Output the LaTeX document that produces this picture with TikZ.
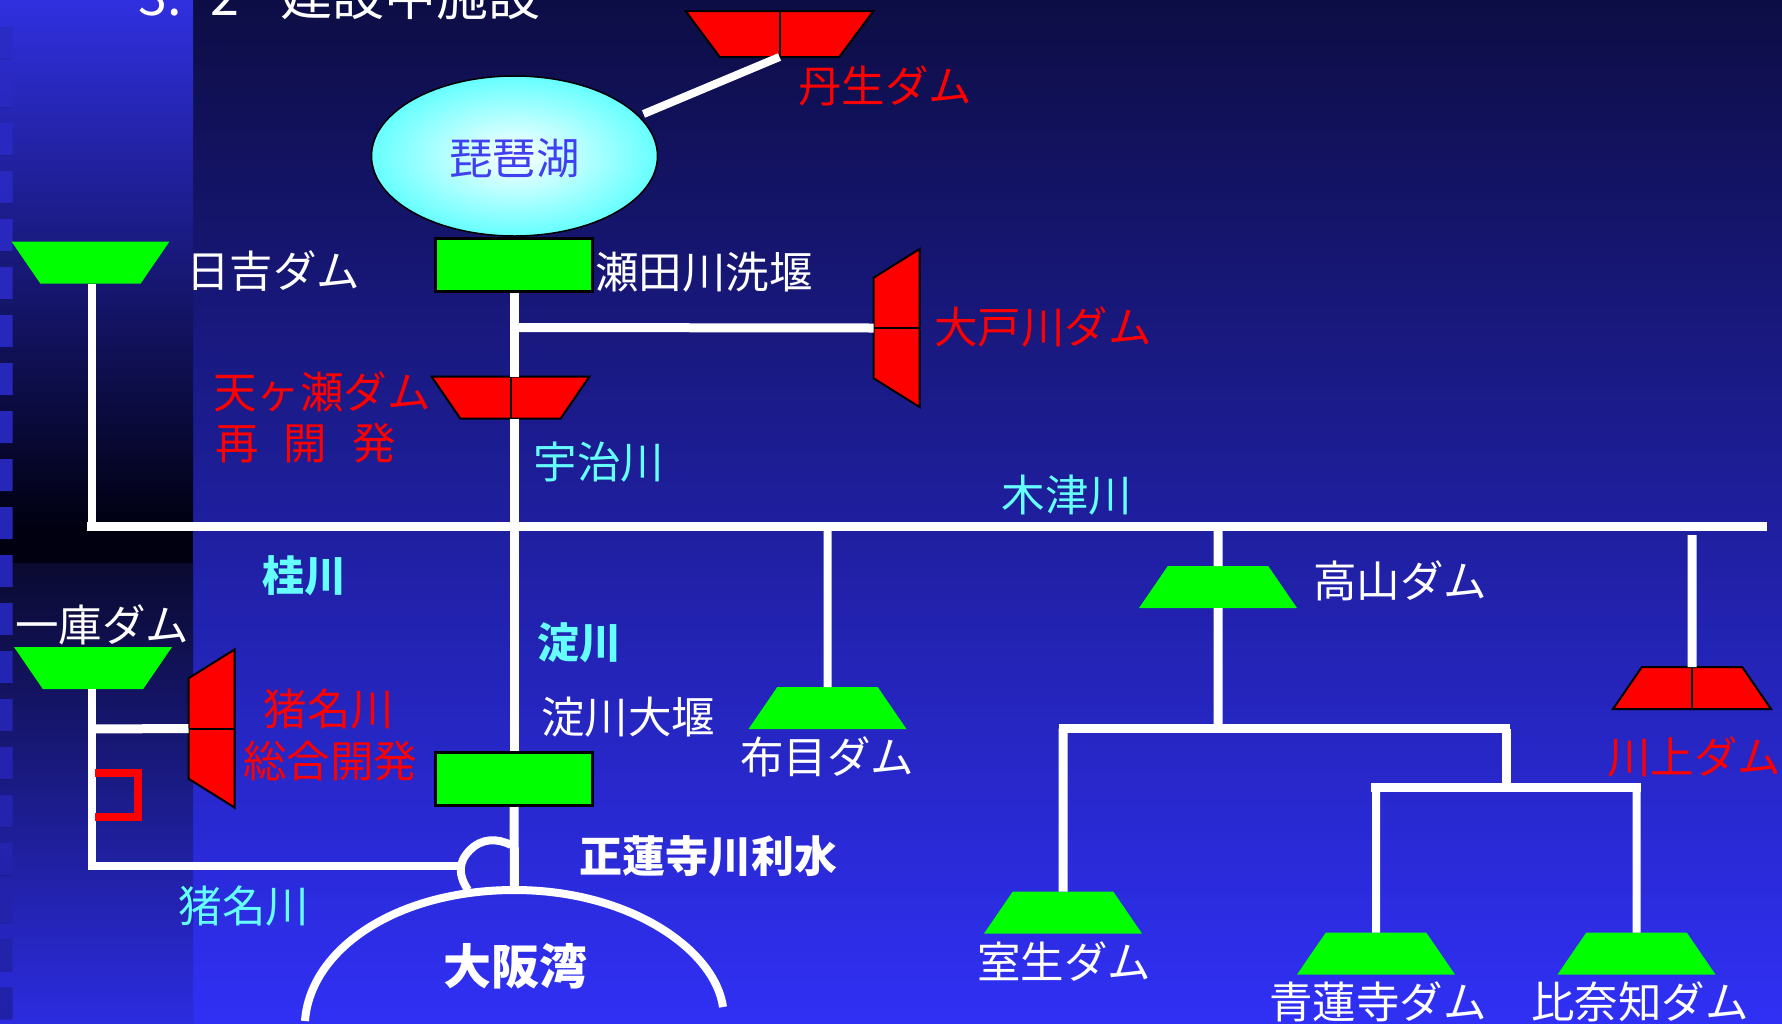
\documentclass[tikz,border=0pt]{standalone}
\usepackage{fontspec}
\usetikzlibrary{shapes.geometric}
\setmainfont{Noto Sans CJK JP}
\definecolor{bgtop}{HTML}{0D0D45}
\definecolor{bgmid}{HTML}{2424B0}
\definecolor{bgbot}{HTML}{3030F5}
\definecolor{striptop}{HTML}{3030E0}
\definecolor{stripdark}{HTML}{000010}
\definecolor{striplow}{HTML}{0A0A30}
\definecolor{stripend}{HTML}{2C2CE0}
\definecolor{lakec}{HTML}{66FFFF}
\definecolor{lakeblue}{HTML}{4040F0}
\definecolor{rivc}{HTML}{66FFFF}
\definecolor{damgreen}{HTML}{00FF00}
\tikzset{
  x=1pt,y=-1pt,
  river/.style={draw=white,line width=9pt},
  greendam/.style={trapezium,trapezium stretches=true,trapezium angle=74,minimum width=158pt,minimum height=42pt,inner sep=0pt,outer sep=0pt,text width=4pt,text height=4pt,fill=damgreen},
  reddam/.style={trapezium,trapezium stretches=true,trapezium angle=74,minimum width=158pt,minimum height=42pt,inner sep=0pt,outer sep=0pt,text width=4pt,text height=4pt,fill=red,draw=black,line width=2pt},
  weir/.style={rectangle,minimum width=157pt,minimum height=53pt,inner sep=0pt,fill=damgreen,draw=black,line width=3pt},
  lbl/.style={inner sep=0pt,font=\fontsize{43.5}{46}\selectfont},
  whitelbl/.style={lbl,text=white},
  redlbl/.style={lbl,text=red},
  cyanlbl/.style={lbl,text=rivc},
  boldlbl/.style={font=\fontsize{#1}{46}\selectfont\bfseries},
}
\begin{document}
\begin{tikzpicture}
\useasboundingbox (0,0) rectangle (1782,1023);
% backgrounds
\fill[top color=bgtop,middle color=bgmid,bottom color=bgbot] (0,0) rectangle (1782,1023);
\fill[top color=striptop,bottom color=stripdark] (0,0) rectangle (193,530);
\fill[stripdark] (0,530) rectangle (193,563);
\fill[top color=striplow,bottom color=stripend] (0,563) rectangle (193,1023);
\begin{scope}
\clip \foreach \k in {0,...,20}{ (0,27+\k*48) rectangle (12.5,59+\k*48) };
\fill[top color=striptop!88!black,middle color=bgbot!42!black,bottom color=stripend!75!black] (0,0) rectangle (13,1023);
\end{scope}
% title
\node[whitelbl,anchor=base west,font=\fontsize{52}{52}\selectfont] (title) at (138,15) {3.\hspace{0.55em}2\hspace{0.8em}建設中施設};
% junction coordinates
\coordinate (mainL) at (87,526.5);
\coordinate (mainR) at (1767,526.5);
\coordinate (hiyJ) at (91.5,526.5);
\coordinate (nunoJ) at (827.5,526.5);
\coordinate (takaJ) at (1218,526.5);
\coordinate (kawaTop) at (1692,535);
\coordinate (odoJ) at (514.5,327.5);
\coordinate (inaJ) at (91.5,729);
\coordinate (inaC) at (91.5,865.5);
\coordinate (inaCL) at (87.5,865.5);
\coordinate (arcL) at (458,865.5);
\coordinate (seaTop) at (514.5,890);
\coordinate (seaL) at (305,1021);
\coordinate (seaR) at (723,1007);
\coordinate (arcS) at (511,845);
\coordinate (arcM) at (470,850);
\coordinate (arcE) at (468,890);
\coordinate (h1) at (1063,728.5);
\coordinate (h1L) at (1059,728.5);
\coordinate (h1J) at (1218,728.5);
\coordinate (h1R) at (1506,728.5);
\coordinate (h1E) at (1510,728.5);
\coordinate (h2) at (1376,787.5);
\coordinate (h2L) at (1371,787.5);
\coordinate (h2R) at (1636.5,787.5);
\coordinate (h2E) at (1641,787.5);
\coordinate (h2J) at (1506,787.5);
\coordinate (brA) at (95,773);
\coordinate (brC1) at (138,773);
\coordinate (brC2) at (138,817);
\coordinate (brB) at (95,817);
% lake and weirs
\node[ellipse,minimum width=286pt,minimum height=160pt,inner sep=0pt,draw=black,line width=1.5pt,inner color=white,outer color=lakec] (lake) at (514.5,156) {};
\node[lbl,text=lakeblue] (lakeT) at (514.5,158) {琵琶湖};
\node[weir] (seta) at (514,265) {};
\node[weir] (yodo) at (514,779) {};
% dams
\node[reddam,shape border rotate=180,minimum width=188pt,minimum height=46pt,path picture={\draw[black,line width=2pt] (path picture bounding box.north)--(path picture bounding box.south);}] (niu) at (779.5,34) {};
\node[greendam,shape border rotate=180] (hiyoshi) at (90.5,262.5) {};
\node[reddam,shape border rotate=180,path picture={\draw[black,line width=2pt] (path picture bounding box.north)--(path picture bounding box.south);}] (amagase) at (510.5,397.5) {};
\node[reddam,shape border rotate=90,minimum height=46pt,path picture={\draw[black,line width=2pt] (path picture bounding box.west)--(path picture bounding box.east);}] (odo) at (896.5,328) {};
\node[greendam,shape border rotate=180] (ichiko) at (93,668) {};
\node[reddam,shape border rotate=90,minimum height=46pt,path picture={\draw[black,line width=2pt] (path picture bounding box.west)--(path picture bounding box.east);}] (ina) at (211.5,728.5) {};
\node[greendam] (nuno) at (827.5,708) {};
\node[greendam] (taka) at (1218,587) {};
\node[reddam,path picture={\draw[black,line width=2pt] (path picture bounding box.north)--(path picture bounding box.south);}] (kawa) at (1692,688) {};
\node[greendam] (muro) at (1063,912.5) {};
\node[greendam] (shoren) at (1376,953.5) {};
\node[greendam] (hina) at (1636.5,953.5) {};
% connectors
\draw[river,line width=8pt] (lake) ++(129,-42) -- (niu.south);
\draw[river] (mainL) -- (mainR);
\draw[river] (seta.south) -- (amagase.north -| seta.south);
\draw[river] (odoJ) -- (odo.west);
\draw[river] (amagase.south -| seta.south) -- (yodo.north);
\draw[river] (yodo.south) -- (seaTop);
\draw[river,line width=8pt] (hiyoshi.south -| hiyJ) -- (hiyJ);
\draw[river,line width=8pt] (nuno.north) -- (nunoJ);
\draw[river] (takaJ) -- (taka.north);
\draw[river] (taka.south) -- (h1J);
\draw[river] (kawaTop) -- (kawa.north);
\draw[river,line width=8pt] (ichiko.south -| inaC) -- (inaC);
\draw[river] (inaJ) -- (ina.west);
\draw[river,line width=8pt] (inaCL) -- (arcL);
\draw[river,line width=8pt] (arcS) .. controls (497,838) and (482,838) .. (arcM) .. controls (458,862) and (458,875) .. (arcE);
\draw[river] (h1L) -- (h1E);
\draw[river] (h1) -- (muro.north);
\draw[river] (h1R) -- (h2J);
\draw[river] (h2L) -- (h2E);
\draw[river,line width=8pt] (h2) -- (shoren.north);
\draw[river,line width=8pt] (h2R) -- (hina.north);
\draw[river,line width=8pt] (seaL) .. controls (310,950) and (395,890) .. (seaTop) .. controls (630,890) and (715,950) .. (seaR);
% red bracket
\draw[red,line width=8pt] (brA) -- (brC1) -- (brC2) -- (brB);
% labels
\node[redlbl] (lniu) at (885,86) {丹生ダム};
\node[whitelbl] (lhiy) at (273,271) {日吉ダム};
\node[whitelbl] (lseta) at (704,272) {瀬田川洗堰};
\node[redlbl] (lodo) at (1043,327) {大戸川ダム};
\node[redlbl] (lama1) at (322,392) {天ヶ瀬ダム};
\node[redlbl,anchor=west] (lama2) at (215,443) {再\hspace{0.58em}開\hspace{0.58em}発};
\node[cyanlbl] (luji) at (599,462) {宇治川};
\node[cyanlbl] (lkizu) at (1067,495) {木津川};
\node[cyanlbl,boldlbl=42] (lkatsu) at (304,576) {桂川};
\node[whitelbl] (lichi) at (102,625) {一庫ダム};
\node[cyanlbl,boldlbl=42] (lyodo) at (579,643) {淀川};
\node[whitelbl] (ltaka) at (1400,581) {高山ダム};
\node[redlbl] (lina1) at (329,709) {猪名川};
\node[redlbl] (lina2) at (330,761) {総合開発};
\node[whitelbl] (lyweir) at (628,717) {淀川大堰};
\node[whitelbl] (lnuno) at (827,757) {布目ダム};
\node[redlbl] (lkawa) at (1694,757) {川上ダム};
\node[whitelbl,boldlbl=43] (lsho) at (708,856) {正蓮寺川利水};
\node[cyanlbl] (lina3) at (244,906) {猪名川};
\node[whitelbl] (lmuro) at (1064,962) {室生ダム};
\node[whitelbl,boldlbl=48] (lbay) at (515,966) {大阪湾};
\node[whitelbl] (lshoren) at (1378,1002) {青蓮寺ダム};
\node[whitelbl] (lhina) at (1640,1002) {比奈知ダム};
\end{tikzpicture}
\end{document}
